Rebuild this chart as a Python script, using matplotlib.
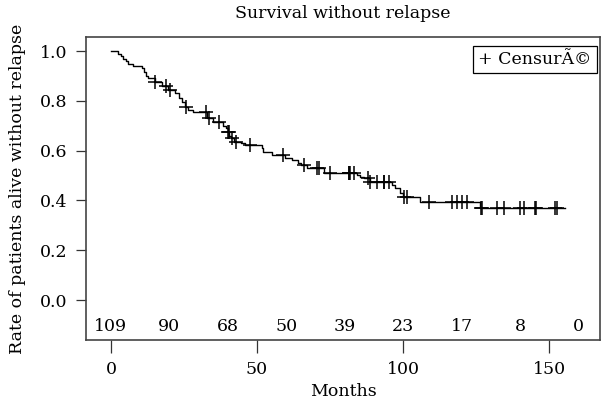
import numpy as np
import matplotlib.pyplot as plt

plt.rcParams['font.family'] = ['DejaVu Serif']

# Kaplan-Meier steps (time in months, survival after the step)
step_times = [0, 2.3, 3.4, 4.2, 5.0, 5.9, 7.6, 10.5, 11.4, 11.9, 12.8, 15.0, 17.4, 19.6,
              21.9, 23.3, 24.4, 25.3, 26.5, 28.2, 33.0, 35.0, 38.5, 39.5, 40.0, 40.5,
              41.0, 42.0, 44.5, 46.0, 51.6, 52.2, 55.0, 59.6, 62.0, 64.1, 65.0, 67.0,
              73.0, 84.1, 85.3, 86.5, 88.5, 96.1, 97.3, 99.0, 99.8, 105.8, 126.4]
step_surv = [1.0, 0.99, 0.98, 0.97, 0.96, 0.95, 0.94, 0.93, 0.917, 0.90, 0.89, 0.877, 0.86,
             0.845, 0.83, 0.81, 0.797, 0.776, 0.763, 0.756, 0.73, 0.716, 0.70, 0.69,
             0.676, 0.66, 0.65, 0.636, 0.629, 0.622, 0.61, 0.596, 0.582, 0.569, 0.562,
             0.549, 0.542, 0.529, 0.512, 0.502, 0.495, 0.489, 0.475, 0.462, 0.449,
             0.428, 0.415, 0.395, 0.368]
end_time = 155.5

# censored observations
censor_times = [15.1, 19.0, 20.2, 25.7, 32.5, 33.7, 37.1, 40.2, 40.3, 41.3, 42.8, 47.6,
                58.8, 65.9, 70.4, 71.3, 74.8, 81.3, 81.6, 81.8, 83.2, 88.1, 88.7, 91.0,
                93.3, 93.5, 95.0, 100.3, 101.3, 108.7, 116.7, 118.4, 120.1, 121.8,
                126.7, 126.9, 132.1, 134.4, 140.1, 141.5, 145.2, 145.4, 152.1, 152.8]

risk_times = [0, 20, 40, 60, 80, 100, 120, 140, 160]
risk_counts = [109, 90, 68, 50, 39, 23, 17, 8, 0]

fs = 12.5

fig = plt.figure(figsize=(6.01, 4.11), dpi=100)
ax = fig.add_axes([0.143, 0.1727, 0.856, 0.737])

xs = step_times + [end_time]
ys = step_surv + [step_surv[-1]]
ax.step(xs, ys, where='post', color='black', lw=1)

idx = np.searchsorted(step_times, censor_times, side='right') - 1
cy = np.array(step_surv)[idx]
ax.plot(censor_times, cy, ls='none', marker='+', ms=10, mew=1.1, color='black')

for t, n in zip(risk_times, risk_counts):
    ax.text(t, -0.108, str(n), ha='center', va='center', fontsize=fs)

ax.set_xlim(-8.56, 167.5)
ax.set_ylim(-0.1606, 1.056)
ax.set_xticks([0, 50, 100, 150])
ax.set_yticks([0, 0.2, 0.4, 0.6, 0.8, 1.0])
ax.set_yticklabels(['0.0', '0.2', '0.4', '0.6', '0.8', '1.0'])
ax.tick_params(axis='y', length=7.2, width=0.9, labelsize=fs, pad=6, color='#333333')
ax.tick_params(axis='x', length=9, width=0.9, labelsize=fs, pad=6, color='#333333')
for s in ax.spines.values():
    s.set_color('#444444')
    s.set_linewidth(1.2)

ax.set_title('Survival without relapse', fontsize=fs, pad=14)
ax.set_xlabel('Months', fontsize=fs, labelpad=4)
ax.set_ylabel('Rate of patients alive without relapse', fontsize=fs, labelpad=10)

ax.text(0.983, 0.955, '+ CensurÃ©', transform=ax.transAxes, ha='right', va='top',
        fontsize=fs,
        bbox=dict(boxstyle='square,pad=0.3', facecolor='white', edgecolor='black', lw=0.9))

fig.savefig('out.png', dpi=100)
